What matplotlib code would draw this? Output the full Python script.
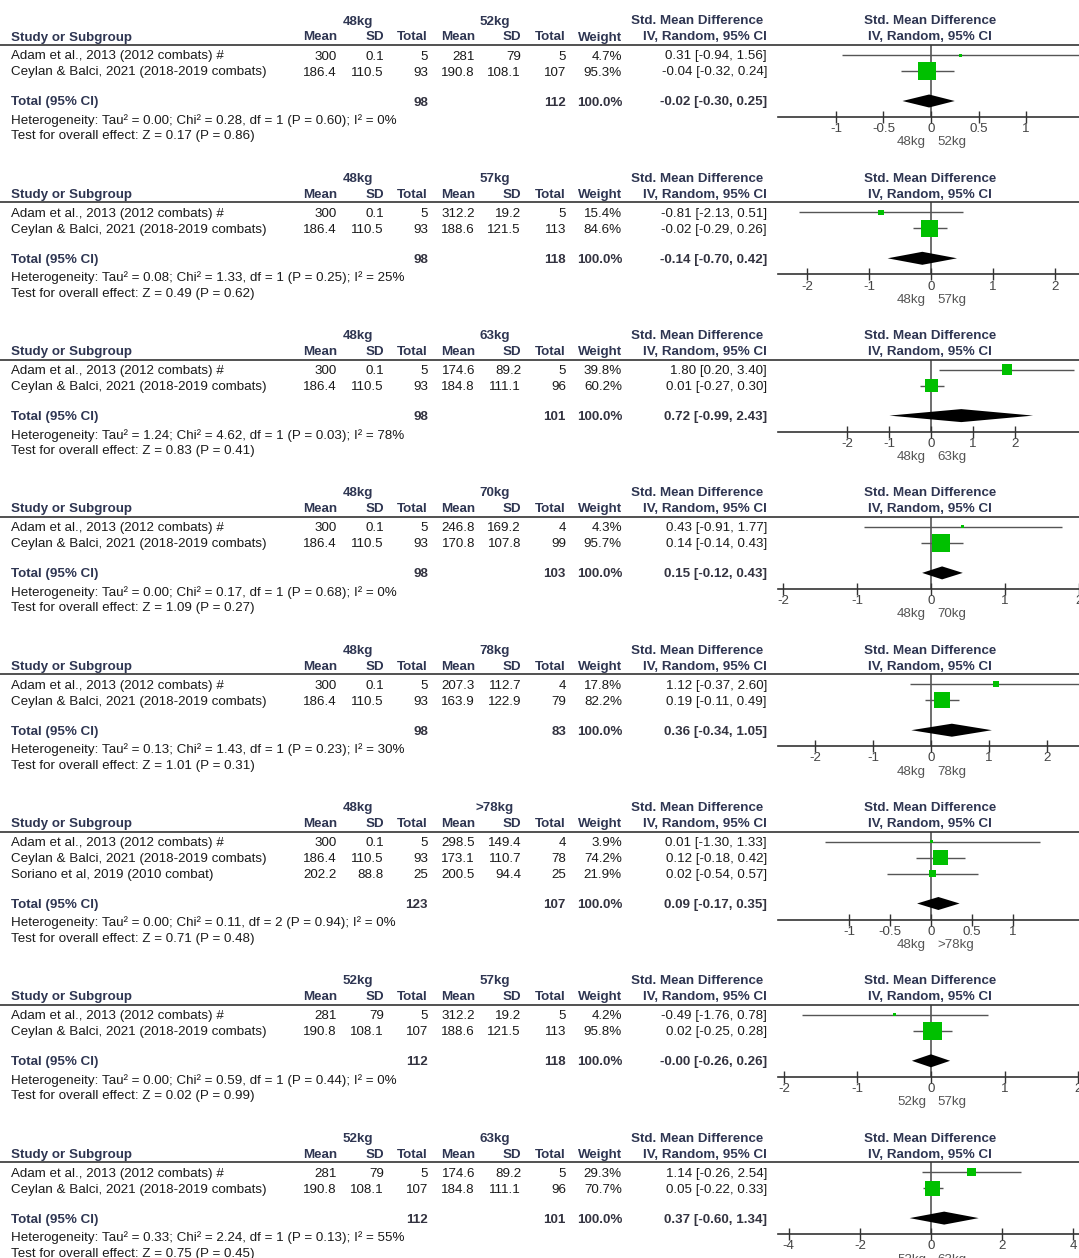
import matplotlib
matplotlib.use("Agg")
import matplotlib.pyplot as plt
from matplotlib.lines import Line2D

plt.rcParams['font.family'] = ['Liberation Sans', 'DejaVu Sans']

W, H = 1079, 1258

# one entry per comparison (experimental vs control weight class)
groups = [("48kg", "52kg"), ("48kg", "57kg"), ("48kg", "63kg"), ("48kg", "70kg"),
          ("48kg", "78kg"), ("48kg", ">78kg"), ("52kg", "57kg"), ("52kg", "63kg")]

adam = "Adam et al., 2013 (2012 combats) #"
ceylan = "Ceylan & Balci, 2021 (2018-2019 combats)"
soriano = "Soriano et al, 2019 (2010 combat)"
studies = [[adam, ceylan]] * 5 + [[adam, ceylan, soriano]] + [[adam, ceylan]] * 2

mean1 = [[300, 186.4]] * 5 + [[300, 186.4, 202.2]] + [[281, 190.8]] * 2
sd1 = [[0.1, 110.5]] * 5 + [[0.1, 110.5, 88.8]] + [[79, 108.1]] * 2
n1 = [[5, 93]] * 5 + [[5, 93, 25]] + [[5, 107]] * 2
mean2 = [[281, 190.8], [312.2, 188.6], [174.6, 184.8], [246.8, 170.8],
         [207.3, 163.9], [298.5, 173.1, 200.5], [312.2, 188.6], [174.6, 184.8]]
sd2 = [[79, 108.1], [19.2, 121.5], [89.2, 111.1], [169.2, 107.8],
       [112.7, 122.9], [149.4, 110.7, 94.4], [19.2, 121.5], [89.2, 111.1]]
n2 = [[5, 107], [5, 113], [5, 96], [4, 99], [4, 79], [4, 78, 25], [5, 113], [5, 96]]
weights = [[4.7, 95.3], [15.4, 84.6], [39.8, 60.2], [4.3, 95.7],
           [17.8, 82.2], [3.9, 74.2, 21.9], [4.2, 95.8], [29.3, 70.7]]
smd = [[0.31, -0.04], [-0.81, -0.02], [1.80, 0.01], [0.43, 0.14],
       [1.12, 0.19], [0.01, 0.12, 0.02], [-0.49, 0.02], [1.14, 0.05]]
ci_low = [[-0.94, -0.32], [-2.13, -0.29], [0.20, -0.27], [-0.91, -0.14],
          [-0.37, -0.11], [-1.30, -0.18, -0.54], [-1.76, -0.25], [-0.26, -0.22]]
ci_high = [[1.56, 0.24], [0.51, 0.26], [3.40, 0.30], [1.77, 0.43],
           [2.60, 0.49], [1.33, 0.42, 0.57], [0.78, 0.28], [2.54, 0.33]]

total1 = [98, 98, 98, 98, 98, 123, 112, 112]
total2 = [112, 118, 101, 103, 83, 107, 118, 101]
pooled = [-0.02, -0.14, 0.72, 0.15, 0.36, 0.09, -0.00, 0.37]
pooled_low = [-0.30, -0.70, -0.99, -0.12, -0.34, -0.17, -0.26, -0.60]
pooled_high = [0.25, 0.42, 2.43, 0.43, 1.05, 0.35, 0.26, 1.34]

tau2 = [0.00, 0.08, 1.24, 0.00, 0.13, 0.00, 0.00, 0.33]
chi2 = [0.28, 1.33, 4.62, 0.17, 1.43, 0.11, 0.59, 2.24]
dof = [1, 1, 1, 1, 1, 2, 1, 1]
p_het = [0.60, 0.25, 0.03, 0.68, 0.23, 0.94, 0.44, 0.13]
i2 = [0, 25, 78, 0, 30, 0, 0, 55]
z_val = [0.17, 0.49, 0.83, 1.09, 1.01, 0.71, 0.02, 0.75]
p_z = [0.86, 0.62, 0.41, 0.27, 0.31, 0.48, 0.99, 0.45]

axis_ticks = [[-1, -0.5, 0, 0.5, 1], [-2, -1, 0, 1, 2], [-2, -1, 0, 1, 2], [-2, -1, 0, 1, 2],
              [-2, -1, 0, 1, 2], [-1, -0.5, 0, 0.5, 1], [-2, -1, 0, 1, 2], [-4, -2, 0, 2, 4]]
axis_half = [1.61, 2.47, 3.64, 2.07, 2.64, 1.87, 2.08, 4.3]

HEAD = '#2f3652'
TXT = '#1a1a1a'
GREEN = '#00c000'
FS = 9.6

fig = plt.figure(figsize=(W / 100, H / 100), dpi=100)
fig.patch.set_facecolor('white')


def put(x, y, s, ha='left', bold=False, color=TXT, size=FS):
    # y given as the text's visual centre in pixels from the top
    fig.text(x / W, 1 - (y + 1.5) / H, s, ha=ha, va='center', fontsize=size,
             fontweight='bold' if bold else 'normal', color=color)


def fmt(v):
    return f"{v:g}"


# column anchors (pixels)
x_name = 11
x_m1, x_sd1, x_n1 = 337, 384, 428
x_m2, x_sd2, x_n2 = 475, 521, 566
x_w, x_ci = 622, 767
x_g1, x_g2 = 358, 495
x_ax0, ax_w = 778, 306

y0 = 20
for k in range(len(groups)):
    n = len(studies[k])
    rows = [y0 + 35 + 16 * i for i in range(n)]
    y_line = y0 + 25
    y_total = rows[-1] + 30
    y_axis = y_total + 16

    # headers
    put(x_g1, y0, groups[k][0], ha='center', bold=True, color=HEAD)
    put(x_g2, y0, groups[k][1], ha='center', bold=True, color=HEAD)
    put(697, y0, "Std. Mean Difference", ha='center', bold=True, color=HEAD)
    put(930, y0, "Std. Mean Difference", ha='center', bold=True, color=HEAD)
    yh = y0 + 16
    put(x_name, yh, "Study or Subgroup", bold=True, color=HEAD)
    for x, s in [(x_m1, "Mean"), (x_sd1, "SD"), (x_n1, "Total"),
                 (x_m2, "Mean"), (x_sd2, "SD"), (x_n2, "Total"),
                 (x_w, "Weight"), (x_ci, "IV, Random, 95% CI")]:
        put(x, yh, s, ha='right', bold=True, color=HEAD)
    put(930, yh, "IV, Random, 95% CI", ha='center', bold=True, color=HEAD)
    fig.add_artist(Line2D([0, 1], [1 - y_line / H] * 2, transform=fig.transFigure,
                          color='#333333', lw=1.2))

    # study rows
    for i, yr in enumerate(rows):
        put(x_name, yr, studies[k][i])
        put(x_m1, yr, fmt(mean1[k][i]), ha='right')
        put(x_sd1, yr, fmt(sd1[k][i]), ha='right')
        put(x_n1, yr, str(n1[k][i]), ha='right')
        put(x_m2, yr, fmt(mean2[k][i]), ha='right')
        put(x_sd2, yr, fmt(sd2[k][i]), ha='right')
        put(x_n2, yr, str(n2[k][i]), ha='right')
        put(x_w, yr, f"{weights[k][i]:.1f}%", ha='right')
        put(x_ci, yr, f"{smd[k][i]:.2f} [{ci_low[k][i]:.2f}, {ci_high[k][i]:.2f}]", ha='right')

    # pooled row and test statistics
    put(x_name, y_total, "Total (95% CI)", bold=True, color=HEAD)
    put(x_n1, y_total, str(total1[k]), ha='right', bold=True, color='#333340')
    put(x_n2, y_total, str(total2[k]), ha='right', bold=True, color='#333340')
    put(x_w, y_total, "100.0%", ha='right', bold=True, color='#333340')
    put(x_ci, y_total, f"{pooled[k]:.2f} [{pooled_low[k]:.2f}, {pooled_high[k]:.2f}]",
        ha='right', bold=True, color='#333340')
    put(x_name, y_total + 18,
        f"Heterogeneity: Tau\u00b2 = {tau2[k]:.2f}; Chi\u00b2 = {chi2[k]:.2f}, df = {dof[k]} "
        f"(P = {p_het[k]:.2f}); I\u00b2 = {i2[k]}%")
    put(x_name, y_total + 34, f"Test for overall effect: Z = {z_val[k]:.2f} (P = {p_z[k]:.2f})")

    # forest plot
    h = y_axis - y_line
    ax = fig.add_axes([x_ax0 / W, 1 - y_axis / H, ax_w / W, h / H])
    ax.set_xlim(-axis_half[k], axis_half[k])
    ax.set_ylim(h, 0)
    ax.patch.set_alpha(0)
    for side in ['top', 'left', 'right']:
        ax.spines[side].set_visible(False)
    ax.spines['bottom'].set_color('#333333')
    ax.spines['bottom'].set_linewidth(1.2)
    ax.set_yticks([])
    ax.set_xticks(axis_ticks[k])
    ax.set_xticklabels([fmt(t) for t in axis_ticks[k]])
    ax.tick_params(axis='x', direction='inout', length=9, width=1, color='#333333',
                   labelsize=FS, labelcolor='#444444', pad=0)
    ax.axvline(0, color='#555555', lw=1.2, zorder=1)

    ry = [r - y_line for r in rows]
    ax.hlines(ry, ci_low[k], ci_high[k], color='#555555', lw=1, zorder=2)
    side_px = [max(3.0, 18 * (w / 95.3) ** 0.65) for w in weights[k]]
    ax.scatter(smd[k], ry, marker='s', s=[(s * 0.72) ** 2 for s in side_px],
               color=GREEN, edgecolors='none', zorder=3)

    ty = y_total - y_line
    ax.fill([pooled_low[k], pooled[k], pooled_high[k], pooled[k]],
            [ty, ty - 6.5, ty, ty + 6.5], color='black', lw=0, zorder=4)

    put(926, y_axis + 24, groups[k][0], ha='right', color='#555555')
    put(937, y_axis + 24, groups[k][1], ha='left', color='#555555')

    y0 += 157.3 + 16 * (n - 2)

fig.savefig('out.png', dpi=100)
